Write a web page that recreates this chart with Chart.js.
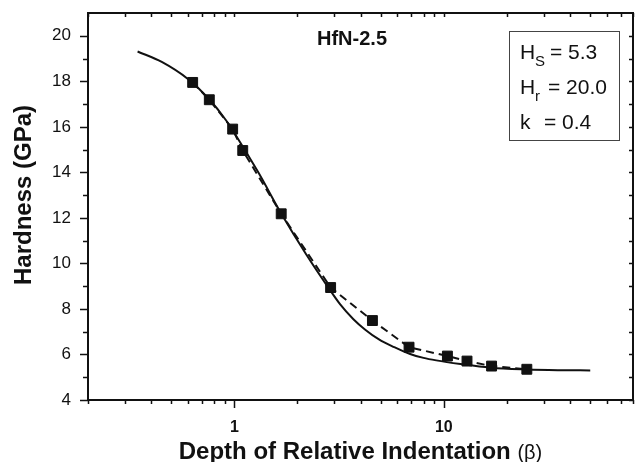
<!DOCTYPE html>
<html>
<head>
<meta charset="utf-8">
<script src="https://cdn.jsdelivr.net/npm/chart.js@4"></script>
<style>
  body { margin: 0; background: #fff; }
</style>
</head>
<body>
<canvas id="hardness" width="635" height="462"></canvas>
<script>
"use strict";

// measured points (squares + dashed line)
const depth = [0.632, 0.759, 0.981, 1.096, 1.673, 2.88, 4.56, 6.82, 10.4, 12.9, 16.9, 24.9];
const hardness = [17.95, 17.19, 15.9, 14.96, 12.18, 8.94, 7.49, 6.32, 5.93, 5.71, 5.49, 5.35];

// fitted curve (solid line)
const fitDepth = [0.345, 0.45, 0.6, 0.76, 0.91, 1.02, 1.3, 1.67, 2.2, 2.85, 3.2, 3.7, 4.2, 4.9, 5.8, 6.9, 8, 9.2, 12, 16.6, 25, 35, 50];
const fitHardness = [19.31, 18.85, 18.1, 17.2, 16.3, 15.6, 14.0, 12.2, 10.4, 8.85, 8.2, 7.55, 7.1, 6.66, 6.32, 6.02, 5.85, 5.74, 5.58, 5.42, 5.34, 5.31, 5.3];

// axis ticks
const xTicks = [0.2, 0.3, 0.4, 0.5, 0.6, 0.7, 0.8, 0.9, 1, 2, 3, 4, 5, 6, 7, 8, 9, 10, 20, 30, 40, 50, 60, 70, 80];
const xLabels = [1, 10];
const yTicks = [4, 5, 6, 7, 8, 9, 10, 11, 12, 13, 14, 15, 16, 17, 18, 19, 20];
const yLabels = [4, 6, 8, 10, 12, 14, 16, 18, 20];

const FONT = "'Liberation Sans', Arial, sans-serif";

function toXY(xs, ys) {
  return xs.map((v, i) => ({ x: v, y: ys[i] }));
}

// no extra room for half labels at the axis ends
function noEndPadding(scale) {
  scale.paddingTop = 0;
  scale.paddingBottom = 0;
  scale.paddingLeft = 0;
  scale.paddingRight = 0;
}

// frame, tick marks (out on bottom/left, in on top/right) and the texts
const decorations = {
  id: 'decorations',
  afterDraw(chart) {
    const { ctx, chartArea: a } = chart;
    const x = chart.scales.x, y = chart.scales.y;
    ctx.save();
    ctx.strokeStyle = '#111';
    ctx.lineWidth = 1.5;
    ctx.beginPath();
    xTicks.forEach(v => {
      const px = Math.round(x.getPixelForValue(v)) + 0.5;
      const len = xLabels.includes(v) ? 8 : 4;
      ctx.moveTo(px, a.bottom);
      ctx.lineTo(px, a.bottom + len);
      ctx.moveTo(px, a.top);
      ctx.lineTo(px, a.top + 4);
    });
    yTicks.forEach(v => {
      const py = Math.round(y.getPixelForValue(v)) + 0.5;
      const len = yLabels.includes(v) ? 8 : 5;
      ctx.moveTo(a.left, py);
      ctx.lineTo(a.left - len, py);
      ctx.moveTo(a.right, py);
      ctx.lineTo(a.right - 4, py);
    });
    ctx.stroke();

    ctx.lineWidth = 2;
    ctx.strokeRect(a.left, a.top, a.right - a.left, a.bottom - a.top);

    // sample name
    ctx.fillStyle = '#111';
    ctx.textBaseline = 'alphabetic';
    ctx.textAlign = 'left';
    ctx.font = 'bold 20px ' + FONT;
    ctx.fillText('HfN-2.5', 317, 45);

    // parameter box
    ctx.lineWidth = 1;
    ctx.strokeStyle = '#444';
    ctx.strokeRect(509.5, 31.5, 110, 109);
    ctx.font = '21px ' + FONT;
    ctx.fillText('H', 520, 59);
    ctx.fillText('= 5.3', 550, 59);
    ctx.fillText('H', 520, 94);
    ctx.fillText('= 20.0', 548, 94);
    ctx.fillText('k', 520, 129);
    ctx.fillText('= 0.4', 544, 129);
    ctx.font = '15px ' + FONT;
    ctx.fillText('S', 535, 66);
    ctx.fillText('r', 535, 101);

    // x axis title with a lighter beta
    const t1 = 'Depth of Relative Indentation ';
    const t2 = '(\u03b2)';
    ctx.font = 'bold 24px ' + FONT;
    const w1 = ctx.measureText(t1).width;
    ctx.font = '20px ' + FONT;
    const w2 = ctx.measureText(t2).width;
    const start = (a.left + a.right) / 2 - (w1 + w2) / 2;
    ctx.font = 'bold 24px ' + FONT;
    ctx.fillText(t1, start, 459);
    ctx.font = '20px ' + FONT;
    ctx.fillText(t2, start + w1, 459);

    // y axis title
    ctx.translate(31, 195);
    ctx.rotate(-Math.PI / 2);
    ctx.textAlign = 'center';
    ctx.font = 'bold 24px ' + FONT;
    ctx.fillText('Hardness (GPa)', 0, 0);
    ctx.restore();
  }
};

const ctx = document.getElementById('hardness').getContext('2d');

new Chart(ctx, {
  type: 'scatter',
  data: {
    datasets: [{
      label: 'measured',
      data: toXY(depth, hardness),
      showLine: true,
      borderColor: '#111',
      borderWidth: 2,
      borderDash: [8, 5],
      pointStyle: 'rect',
      pointRadius: 7,
      pointBorderWidth: 1,
      pointBackgroundColor: '#111',
      pointBorderColor: '#111',
      tension: 0
    }, {
      label: 'fit',
      data: toXY(fitDepth, fitHardness),
      showLine: true,
      borderColor: '#111',
      borderWidth: 2,
      pointRadius: 0,
      cubicInterpolationMode: 'monotone'
    }]
  },
  options: {
    responsive: false,
    animation: false,
    layout: {
      autoPadding: false,
      padding: { top: 13, right: 2, left: 0, bottom: 0 }
    },
    scales: {
      x: {
        type: 'logarithmic',
        min: 0.2,
        max: 80,
        afterBuildTicks: function (scale) {
          scale.ticks = xTicks.map(v => ({ value: v }));
        },
        afterFit: function (scale) {
          scale.height = 62;
          noEndPadding(scale);
        },
        grid: {
          display: false,
          drawTicks: true,
          tickLength: 8
        },
        border: { display: false },
        ticks: {
          autoSkip: false,
          maxRotation: 0,
          minRotation: 0,
          padding: 10,
          color: '#111',
          font: { family: FONT, size: 16, weight: 'bold' },
          callback: function (value) {
            return xLabels.includes(value) ? String(value) : '';
          }
        }
      },
      y: {
        type: 'linear',
        min: 4,
        max: 21,
        afterBuildTicks: function (scale) {
          scale.ticks = yTicks.map(v => ({ value: v }));
        },
        afterFit: function (scale) {
          scale.width = 88;
          noEndPadding(scale);
        },
        grid: {
          display: false,
          drawTicks: true,
          tickLength: 8
        },
        border: { display: false },
        ticks: {
          autoSkip: false,
          padding: 9,
          color: '#111',
          font: { family: FONT, size: 17 },
          callback: function (value) {
            return yLabels.includes(value) ? String(value) : '';
          }
        }
      }
    },
    plugins: {
      legend: { display: false },
      tooltip: { enabled: false }
    }
  },
  plugins: [decorations]
});
</script>
</body>
</html>
